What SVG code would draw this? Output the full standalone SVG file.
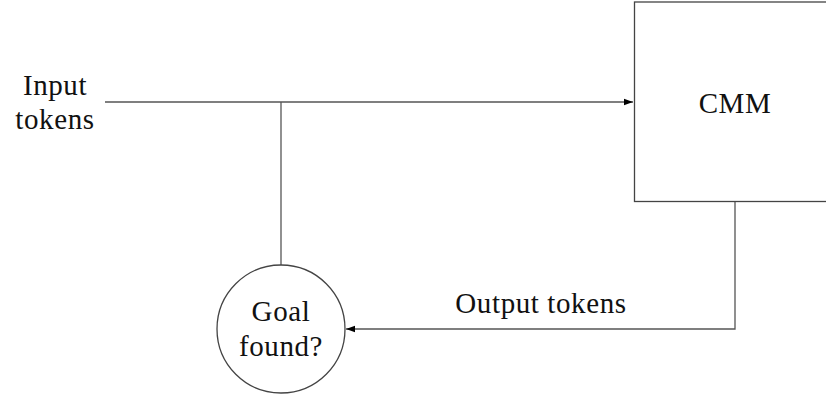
<svg xmlns="http://www.w3.org/2000/svg" width="826" height="399" viewBox="0 0 826 399">
  <style>
    .lbl { font-family: "Liberation Serif", "DejaVu Serif", serif; font-size: 29px; letter-spacing: 0.6px; fill: #111; text-anchor: middle; }
    .edge { fill: none; stroke: #555; stroke-width: 1.3; }
    .shape { fill: #fff; stroke: #444; stroke-width: 1.3; }
  </style>
  <defs>
    <marker id="arrow" viewBox="0 0 10 10" refX="10" refY="5" markerWidth="9" markerHeight="9" markerUnits="userSpaceOnUse" orient="auto">
      <path d="M0,1.5 L10,5 L0,8.5 Z" fill="#000"/>
    </marker>
  </defs>

  <g id="connectors">
    <!-- input stream into the model -->
    <line class="edge" x1="105" y1="102" x2="633" y2="102" marker-end="url(#arrow)"/>
    <!-- feedback branch down to the goal check -->
    <line class="edge" x1="281" y1="102" x2="281" y2="265"/>
    <!-- model output back to the goal check -->
    <polyline class="edge" points="735,202 735,329 346,329" marker-end="url(#arrow)"/>
  </g>

  <g id="input-label">
    <text class="lbl" x="55" y="95">Input</text>
    <text class="lbl" x="55" y="129">tokens</text>
  </g>

  <g id="cmm">
    <rect class="shape" x="634.5" y="2" width="200" height="199.5"/>
    <text class="lbl" x="735" y="113">CMM</text>
  </g>

  <g id="goal">
    <circle class="shape" cx="281" cy="329" r="64"/>
    <text class="lbl" x="281" y="321">Goal</text>
    <text class="lbl" x="281" y="356">found?</text>
  </g>

  <g id="output-label">
    <text class="lbl" x="541" y="313">Output tokens</text>
  </g>
</svg>
